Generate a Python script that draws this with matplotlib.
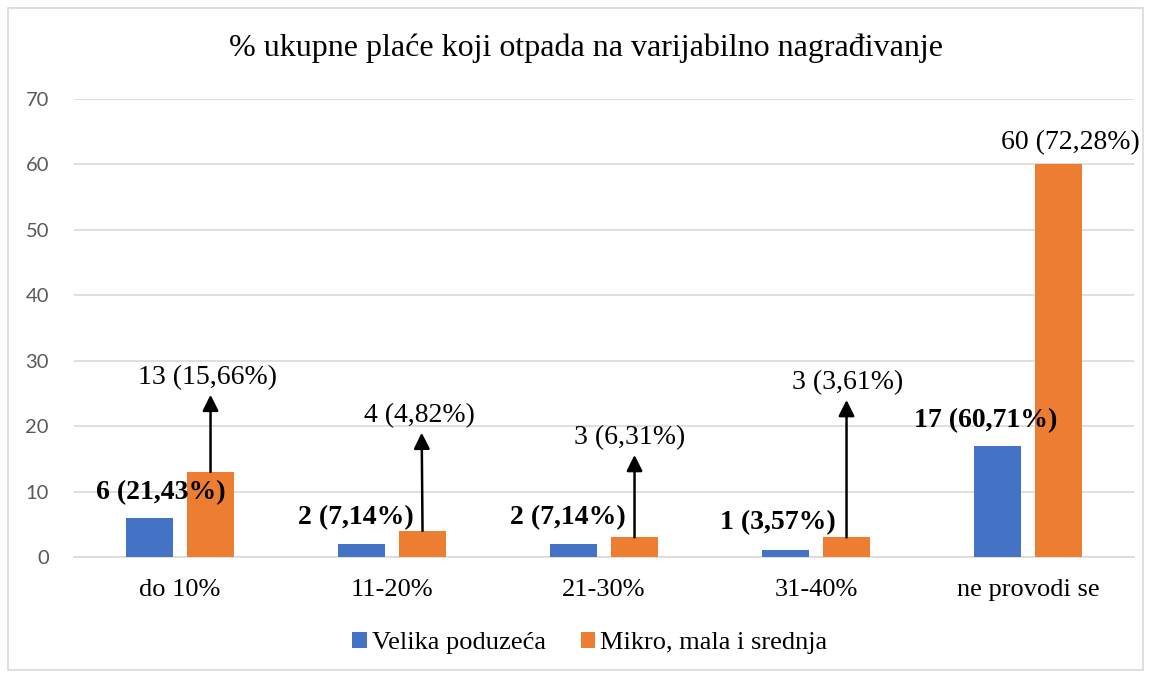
import matplotlib.pyplot as plt
import numpy as np
from matplotlib.patches import Rectangle

categories = ["do 10%", "11-20%", "21-30%", "31-40%", "ne provodi se"]
velika = [6, 2, 2, 1, 17]
mikro = [13, 4, 3, 3, 60]
velika_labels = ["6 (21,43%)", "2 (7,14%)", "2 (7,14%)", "1 (3,57%)", "17 (60,71%)"]
mikro_labels = ["13 (15,66%)", "4 (4,82%)", "3 (6,31%)", "3 (3,61%)", "60 (72,28%)"]

BLUE = "#4472C4"
ORANGE = "#ED7D31"
SERIF = "Liberation Serif"

fig = plt.figure(figsize=(11.51, 6.75), dpi=100)
ax = fig.add_axes([74 / 1151, 1 - 557 / 675, 1060 / 1151, 458 / 675])

x = np.arange(len(categories))
w = 0.222
off = 0.144
ax.bar(x - off, velika, w, color=BLUE, label="Velika poduzeća", zorder=3)
ax.bar(x + off, mikro, w, color=ORANGE, label="Mikro, mala i srednja", zorder=3)

ax.set_xlim(-0.5, len(categories) - 0.5)
ax.set_ylim(0, 70)
ax.set_yticks(range(0, 71, 10))
ax.yaxis.grid(True, color="#D9D9D9", linewidth=1.2, zorder=0)
for s in ["top", "right", "left"]:
    ax.spines[s].set_visible(False)
ax.spines["bottom"].set_color("#D9D9D9")
ax.spines["bottom"].set_linewidth(1.2)
ax.tick_params(axis="both", length=0)
ax.tick_params(axis="y", pad=18, labelsize=14.5, labelcolor="#595959")
for t in ax.get_yticklabels():
    t.set_fontfamily("Lato")
ax.set_xticks(x)
ax.set_xticklabels(categories, fontsize=19, fontfamily=SERIF)
ax.tick_params(axis="x", pad=16)

# blue labels (bold)
blue_pos = [(-0.09, 9.9), (0.83, 6.0), (1.83, 6.0), (2.82, 5.3), (3.8, 20.9)]
for (px, py), lab in zip(blue_pos, velika_labels):
    ax.text(px, py, lab, ha="center", va="center", fontsize=20,
            fontweight="bold", fontfamily=SERIF, zorder=4)

# orange labels with arrows
orange_pos = [(0.13, 27.4), (1.13, 21.6), (2.12, 18.3), (3.15, 26.6)]
tips = [(0.144, 24.8), (1.14, 19.0), (2.144, 15.6), (3.144, 24.0)]
for i, ((px, py), (tx, ty), lab) in enumerate(zip(orange_pos, tips, mikro_labels[:4])):
    ax.text(px, py, lab, ha="center", va="center", fontsize=20, fontfamily=SERIF, zorder=4)
    ax.annotate("", xy=(tx, ty), xytext=(x[i] + off, mikro[i]),
                arrowprops=dict(arrowstyle="-|>", color="black", lw=1.8,
                                mutation_scale=24, shrinkA=0, shrinkB=0), zorder=4)
ax.text(4.2, 63.4, mikro_labels[4], ha="center", va="center", fontsize=20,
        fontfamily=SERIF, zorder=4)

fig.text(586 / 1151, 1 - 48 / 675, "% ukupne plaće koji otpada na varijabilno nagrađivanje",
         ha="center", va="center", fontsize=23, fontfamily=SERIF)

fig.legend(loc="center", bbox_to_anchor=(590 / 1151, 1 - 643 / 675), ncol=2,
           frameon=False, prop={"family": SERIF, "size": 19},
           handlelength=0.55, handleheight=0.55, columnspacing=1.3, handletextpad=0.2)

fig.patches.append(Rectangle((8 / 1151, 5 / 675), 1135 / 1151, 662 / 675,
                             transform=fig.transFigure, fill=False,
                             edgecolor="#D9D9D9", linewidth=1.2))

fig.savefig("out.png", dpi=100)
